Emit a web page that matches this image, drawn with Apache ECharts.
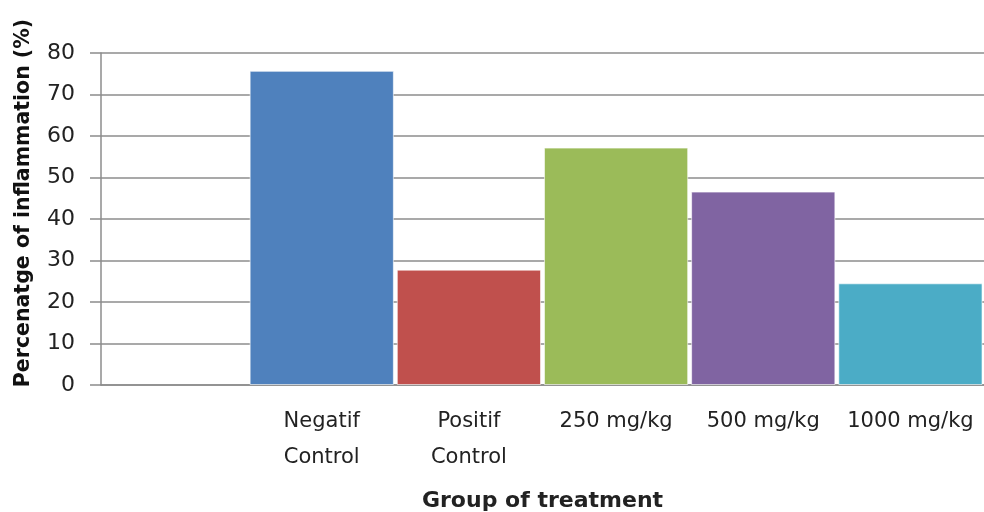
<!DOCTYPE html>
<html><head><meta charset="utf-8">
<script src="https://cdn.jsdelivr.net/npm/echarts@6/dist/echarts.min.js"></script>
<style>html,body{margin:0;padding:0;background:#fff}#c{width:984px;height:512px}</style>
</head><body><div id="c"></div>
<script>
const categories = ['', 'Negatif\nControl', 'Positif\nControl', '250 mg/kg', '500 mg/kg', '1000 mg/kg'];
const values = ['-', 75.7, 27.8, 57.2, 46.6, 24.5];
const colors = ['#ffffff', '#4F81BD', '#C0504D', '#9BBB59', '#8064A2', '#4BACC6'];
const yTicks = { min: 0, max: 80, interval: 10 };

const font = '"DejaVu Sans", sans-serif';
const chart = echarts.init(document.getElementById('c'), null, { renderer: 'canvas' });
chart.setOption({
  animation: false,
  grid: { left: 101, right: 0, top: 53, bottom: 127, containLabel: false, outerBoundsMode: 'none' },
  xAxis: {
    type: 'category',
    data: categories,
    name: 'Group of treatment',
    nameLocation: 'middle',
    nameGap: 105,
    nameTextStyle: { fontFamily: font, fontWeight: 'bold', fontSize: 22, color: '#222' },
    axisLine: { lineStyle: { color: '#8c8c8c', width: 1.5 } },
    axisTick: { show: false },
    axisLabel: { interval: 0, margin: 19, fontFamily: font, fontSize: 21, color: '#222', lineHeight: 36 }
  },
  yAxis: {
    type: 'value',
    min: yTicks.min, max: yTicks.max, interval: yTicks.interval,
    name: 'Percenatge of inflammation (%)',
    nameLocation: 'middle',
    nameGap: 67,
    nameTextStyle: { fontFamily: font, fontWeight: 'bold', fontSize: 20.5, color: '#111', padding: [0, 0, 0, 32] },
    axisLine: { show: true, lineStyle: { color: '#8c8c8c', width: 1.5 } },
    axisTick: { show: true, inside: false, length: 11, lineStyle: { color: '#8c8c8c', width: 1.5 } },
    axisLabel: { margin: 26, fontFamily: font, fontSize: 22, color: '#222' },
    splitLine: { lineStyle: { color: '#8c8c8c', width: 1.5 } }
  },
  series: [{
    type: 'bar',
    data: values.map((v, i) => ({ value: v, itemStyle: { color: colors[i] } })),
    barCategoryGap: '2%',
    itemStyle: { borderColor: 'rgba(255,255,255,0.6)', borderWidth: 1 }
  }]
});
</script></body></html>
